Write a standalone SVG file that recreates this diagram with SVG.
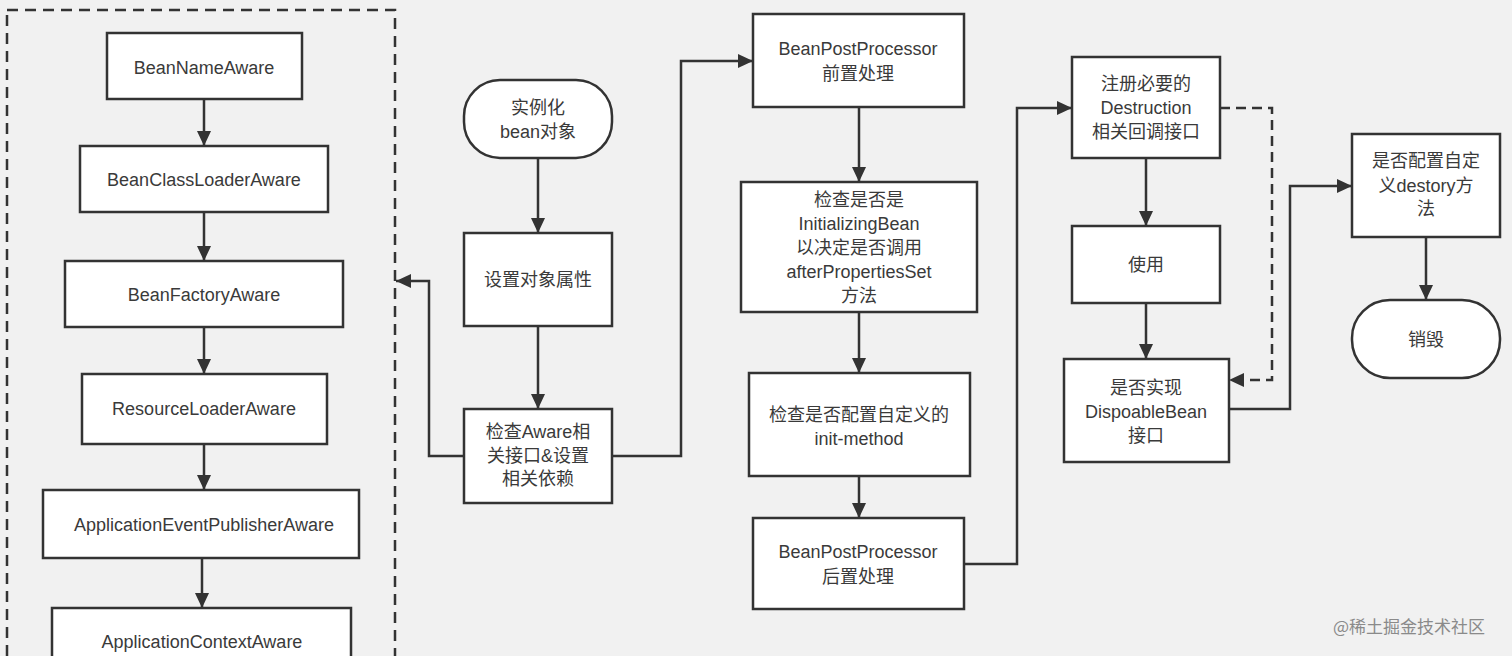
<svg xmlns="http://www.w3.org/2000/svg" width="1512" height="656" viewBox="0 0 1512 656">
<style>
.bg{fill:#f1f1f1}
.box{fill:#fff;stroke:#333;stroke-width:2.5}
.t{font-family:"Liberation Sans","Noto Sans CJK SC",sans-serif;font-size:18px;fill:#3a3a3a;text-anchor:middle;dominant-baseline:central}
.c{fill:none;stroke:#333;stroke-width:2.5;marker-end:url(#ah)}
.d{stroke-dasharray:10,6}
.frame{fill:none;stroke:#333;stroke-width:2.5;stroke-dasharray:11,7}
.wm{font-family:"Noto Sans CJK SC",sans-serif;font-size:17px;fill:#8a8a8a}
</style>
<defs>
<marker id="ah" markerUnits="userSpaceOnUse" markerWidth="15" markerHeight="15" refX="15" refY="7" orient="auto">
<path d="M0,0 L15,7 L0,14 z" fill="#333"/>
</marker>
</defs>
<rect class="bg" x="0" y="0" width="1512" height="656"/>
<rect class="frame" x="7" y="10" width="388" height="700"/>

<g id="n1"><rect class="box" x="107" y="33" width="195" height="66"/><text class="t" x="204" y="68">BeanNameAware</text></g>
<g id="n2"><rect class="box" x="80" y="146" width="248" height="66"/><text class="t" x="204" y="180">BeanClassLoaderAware</text></g>
<g id="n3"><rect class="box" x="65" y="261" width="278" height="66"/><text class="t" x="204" y="295">BeanFactoryAware</text></g>
<g id="n4"><rect class="box" x="82" y="374" width="245" height="70"/><text class="t" x="204" y="409">ResourceLoaderAware</text></g>
<g id="n5"><rect class="box" x="43" y="490" width="316" height="68"/><text class="t" x="204" y="525">ApplicationEventPublisherAware</text></g>
<g id="n6"><rect class="box" x="52" y="608" width="299" height="70"/><text class="t" x="202" y="642">ApplicationContextAware</text></g>

<g id="start"><rect class="box" x="464" y="80" width="148" height="78" rx="36"/><text class="t" x="538" y="108">实例化</text><text class="t" x="538" y="132">bean对象</text></g>
<g id="setprop"><rect class="box" x="464" y="233" width="148" height="93"/><text class="t" x="538" y="280">设置对象属性</text></g>
<g id="aware"><rect class="box" x="464" y="409" width="148" height="94"/><text class="t" x="538" y="432">检查Aware相</text><text class="t" x="538" y="456">关接口&amp;设置</text><text class="t" x="538" y="479">相关依赖</text></g>

<g id="bpp1"><rect class="box" x="753" y="14" width="211" height="93"/><text class="t" x="858" y="49">BeanPostProcessor</text><text class="t" x="858" y="74">前置处理</text></g>
<g id="initbean"><rect class="box" x="741" y="182" width="236" height="130"/><text class="t" x="859" y="200">检查是否是</text><text class="t" x="859" y="224">InitializingBean</text><text class="t" x="859" y="248">以决定是否调用</text><text class="t" x="859" y="272">afterPropertiesSet</text><text class="t" x="859" y="296">方法</text></g>
<g id="initmethod"><rect class="box" x="749" y="373" width="221" height="103"/><text class="t" x="859" y="415">检查是否配置自定义的</text><text class="t" x="859" y="439">init-method</text></g>
<g id="bpp2"><rect class="box" x="753" y="518" width="211" height="91"/><text class="t" x="858" y="552">BeanPostProcessor</text><text class="t" x="858" y="577">后置处理</text></g>

<g id="register"><rect class="box" x="1072" y="57" width="148" height="101"/><text class="t" x="1146" y="84">注册必要的</text><text class="t" x="1146" y="108">Destruction</text><text class="t" x="1146" y="132">相关回调接口</text></g>
<g id="use"><rect class="box" x="1072" y="226" width="148" height="77"/><text class="t" x="1146" y="265">使用</text></g>
<g id="disposable"><rect class="box" x="1064" y="359" width="165" height="103"/><text class="t" x="1146" y="388">是否实现</text><text class="t" x="1146" y="412">DispoableBean</text><text class="t" x="1146" y="436">接口</text></g>
<g id="destroymethod"><rect class="box" x="1352" y="134" width="148" height="103"/><text class="t" x="1426" y="161">是否配置自定</text><text class="t" x="1426" y="186">义destory方</text><text class="t" x="1426" y="209">法</text></g>
<g id="destroy"><rect class="box" x="1352" y="300" width="148" height="78" rx="38"/><text class="t" x="1426" y="340">销毁</text></g>

<g id="connectors">
<path class="c" d="M204,99 V146"/>
<path class="c" d="M204,212 V261"/>
<path class="c" d="M204,327 V374"/>
<path class="c" d="M204,444 V490"/>
<path class="c" d="M202,558 V608"/>
<path class="c" d="M538,158 V233"/>
<path class="c" d="M538,326 V409"/>
<path class="c" d="M464,456 H429 V281 H396"/>
<path class="c" d="M612,456 H681 V61 H753"/>
<path class="c" d="M859,107 V182"/>
<path class="c" d="M859,312 V373"/>
<path class="c" d="M859,476 V518"/>
<path class="c" d="M964,564 H1017 V108 H1072"/>
<path class="c" d="M1146,158 V226"/>
<path class="c" d="M1146,303 V359"/>
<path class="c d" d="M1220,108 H1272 V380 H1229"/>
<path class="c" d="M1229,409 H1290 V186 H1352"/>
<path class="c" d="M1426,237 V300"/>
</g>
<text class="wm" x="1333" y="633">@稀土掘金技术社区</text>
</svg>
